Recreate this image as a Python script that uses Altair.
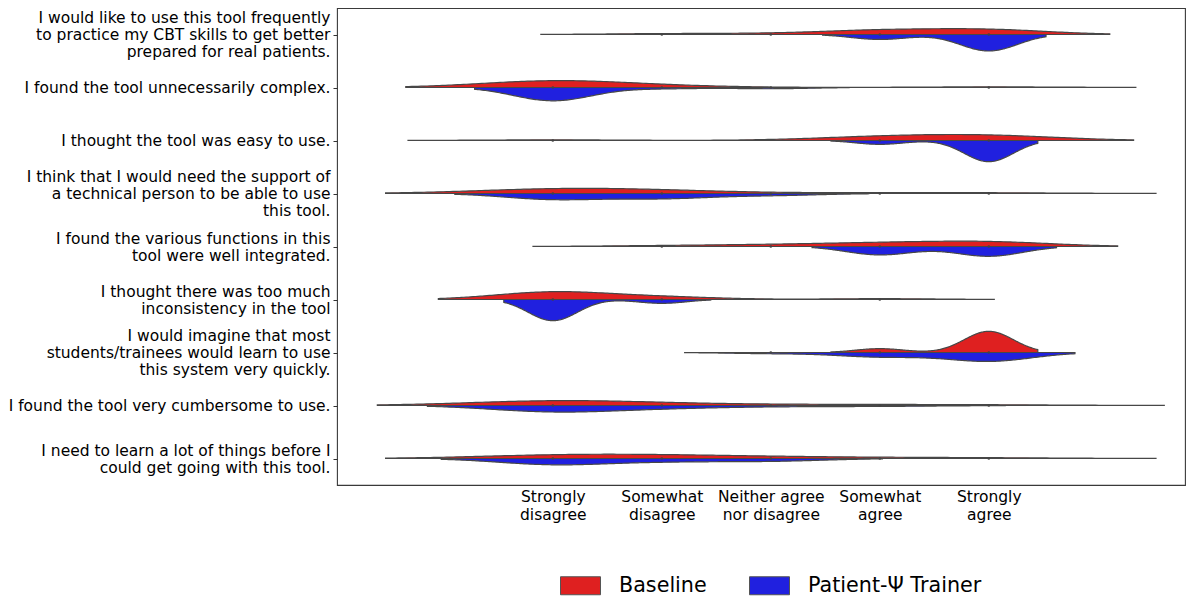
import json
import altair as alt
import pandas as pd

# ---------------- data ----------------
questions = [
    ["I would like to use this tool frequently", "to practice my CBT skills to get better", "prepared for real patients."],
    ["I found the tool unnecessarily complex."],
    ["I thought the tool was easy to use."],
    ["I think that I would need the support of", "a technical person to be able to use", "this tool."],
    ["I found the various functions in this", "tool were well integrated."],
    ["I thought there was too much", "inconsistency in the tool"],
    ["I would imagine that most", "students/trainees would learn to use", "this system very quickly."],
    ["I found the tool very cumbersome to use."],
    ["I need to learn a lot of things before I", "could get going with this tool."],
]
levels = [1, 2, 3, 4, 5]
level_labels = [["Strongly", "disagree"], ["Somewhat", "disagree"], ["Neither agree", "nor disagree"],
                ["Somewhat", "agree"], ["Strongly", "agree"]]
groups = ["Baseline", "Patient-Ψ Trainer"]
colors = ["#df2020", "#2020df"]

# number of responses at each Likert level (1..5), per statement
baseline_counts = [
    [0, 1, 1, 5, 6],
    [10, 2, 0, 0, 1],
    [1, 0, 0, 5, 7],
    [7, 4, 0, 1, 1],
    [0, 1, 2, 4, 6],
    [9, 3, 0, 1, 0],
    [0, 0, 0, 2, 11],
    [8, 2, 1, 1, 1],
    [5, 4, 2, 1, 1],
]
trainer_counts = [
    [0, 0, 0, 3, 10],
    [11, 1, 1, 0, 0],
    [0, 0, 0, 2, 11],
    [6, 5, 2, 0, 0],
    [0, 0, 0, 6, 7],
    [11, 2, 0, 0, 0],
    [0, 0, 1, 4, 8],
    [8, 3, 1, 1, 0],
    [7, 3, 3, 0, 0],
]

rows = []
for gname, table in zip(groups, [baseline_counts, trainer_counts]):
    for qi, cnts in enumerate(table):
        for lv, c in zip(levels, cnts):
            rows.append({"q": qi, "group": gname, "value": lv, "cnt": c})
df = pd.DataFrame(rows)

FONT = "DejaVu Sans"
LH = 17
q_label_expr = json.dumps(questions) + "[datum.value]"
x_label_expr = json.dumps(level_labels) + "[datum.value - 1]"
nlines = json.dumps([len(q) for q in questions])

x_enc = alt.X("t:Q", title=None,
              scale=alt.Scale(domain=[-0.98, 6.8], nice=False, zero=False),
              axis=alt.Axis(values=levels, labelExpr=x_label_expr, ticks=False, domain=False,
                            grid=False, labelFontSize=15.5, labelFont=FONT, labelColor="#000",
                            labelPadding=4, labelLineHeight=18, labelBaseline="top", labelLimit=0))
y_scale = alt.Scale(domain=[-0.5, 8.5], reverse=True, nice=False, zero=False)
y_axis = alt.Axis(values=list(range(len(questions))), labelExpr=q_label_expr, tickSize=4,
                  tickColor="#333", domain=False, grid=False, labelFontSize=15.5, labelFont=FONT,
                  labelColor="#000", labelPadding=3, labelLineHeight=LH, labelBaseline="middle",
                  labelAlign="right", labelLimit=0,
                  labelOffset={"condition": [
                      {"test": f"{nlines}[datum.value] == 3", "value": -LH},
                      {"test": f"{nlines}[datum.value] == 2", "value": -LH / 2},
                  ], "value": 0})

base = alt.Chart(df)

kde = (
    base.transform_filter("datum.cnt > 0")
    .transform_calculate(cv="datum.cnt * datum.value", cv2="datum.cnt * datum.value * datum.value")
    .transform_joinaggregate(n="sum(cnt)", s1="sum(cv)", s2="sum(cv2)",
                             vmin="min(value)", vmax="max(value)", groupby=["q", "group"])
    .transform_calculate(bw="sqrt((datum.s2 - datum.s1 * datum.s1 / datum.n) / (datum.n - 1)) * pow(datum.n, -0.2)")
    .transform_calculate(grid="sequence(0, 241)")
    .transform_flatten(["grid"])
    .transform_calculate(t="datum.vmin - 2 * datum.bw + datum.grid / 240 * (datum.vmax - datum.vmin + 4 * datum.bw)")
    .transform_calculate(k="datum.cnt * exp(-0.5 * pow((datum.t - datum.value) / datum.bw, 2)) / (datum.bw * sqrt(2 * PI)) / datum.n")
    .transform_aggregate(dens="sum(k)", groupby=["q", "group", "grid", "t"])
    .transform_joinaggregate(gmax="max(dens)")
    .transform_calculate(yv="datum.q + (datum.group == 'Baseline' ? -1 : 1) * 0.4 * datum.dens / datum.gmax")
    .mark_area(stroke="#474747", strokeWidth=1.2, fillOpacity=1, opacity=1)
    .encode(
        x=x_enc,
        y=alt.Y("yv:Q", stack=None, title=None, scale=y_scale, axis=y_axis),
        y2=alt.Y2("q:Q"),
        color=alt.Color("group:N", scale=alt.Scale(domain=groups, range=colors), title=None,
                        legend=alt.Legend(orient="none", legendX=223, legendY=557, direction="horizontal",
                                          symbolType="M-1,-0.45H1V0.45H-1Z", symbolSize=1600,
                                          symbolStrokeColor="#555", symbolStrokeWidth=1,
                                          symbolOpacity=1, labelFontSize=20.7, labelFont=FONT,
                                          labelColor="#000", labelOffset=18, columnPadding=40,
                                          padding=0, labelLimit=0)),
        detail="q:N",
    )
)

dots = (
    base.transform_filter("datum.cnt > 0")
    .transform_aggregate(c="sum(cnt)", groupby=["q", "value"])
    .transform_calculate(t="datum.value", yv="datum.q")
    .mark_circle(size=7, color="#444", opacity=1)
    .encode(x=x_enc, y=alt.Y("yv:Q", title=None, scale=y_scale, axis=y_axis))
)

chart = (
    alt.layer(kde, dots)
    .properties(width=848, height=477, padding={"left": 0, "top": 0, "right": 5, "bottom": 0})
    .configure(font=FONT)
    .configure_view(stroke="#3a3a3a", strokeWidth=1.1)
)

chart.save("out.html", embed_options={"renderer": "svg", "actions": False})
